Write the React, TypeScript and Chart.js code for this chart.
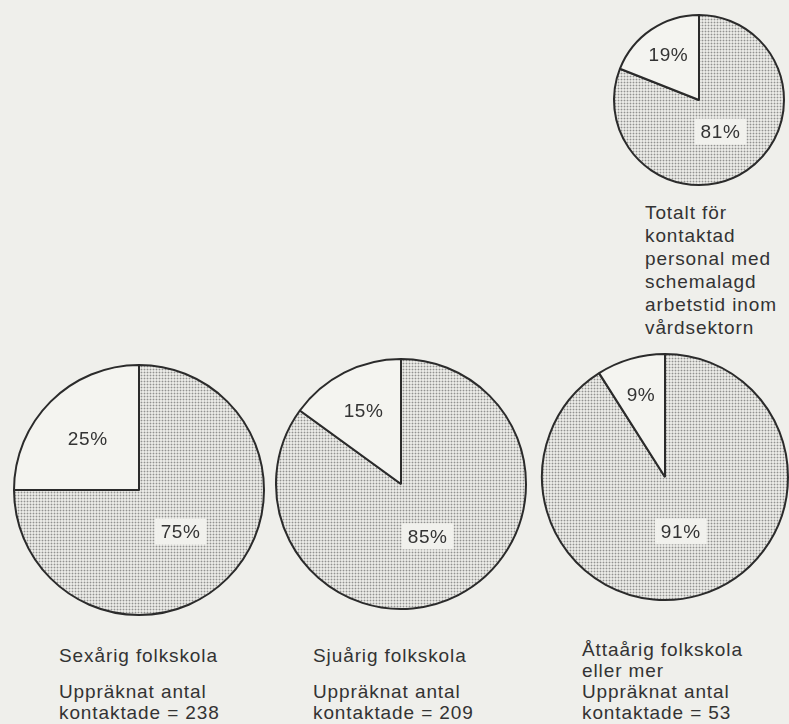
import React, { useEffect, useRef } from 'react';
import { Chart, registerables } from 'chart.js';

Chart.register(...registerables);

// ---- Data ----
const sliceCategories = ['Större andel', 'Mindre andel'];
const totalValues = [81, 19];
const sexarigValues = [75, 25];
const sjuarigValues = [85, 15];
const attaarigValues = [91, 9];

const totalCaption = ['Totalt för', 'kontaktad', 'personal med', 'schemalagd', 'arbetstid inom', 'vårdsektorn'];
const groupTitles = [['Sexårig folkskola'], ['Sjuårig folkskola'], ['Åttaårig folkskola', 'eller mer']];
const groupCounts = [238, 209, 53];

// ---- Style ----
const BG = '#efefeb';
const LIGHT = '#f4f4f0';
const INK = '#333333';
const FONT = '"Liberation Sans", Arial, sans-serif';

function makePattern(ctx: CanvasRenderingContext2D) {
  const c = document.createElement('canvas');
  c.width = 3;
  c.height = 3;
  const p = c.getContext('2d')!;
  p.fillStyle = '#e9e9e5';
  p.fillRect(0, 0, 3, 3);
  p.fillStyle = '#cdcdca';
  p.fillRect(0, 1, 3, 1);
  p.fillRect(1, 0, 1, 3);
  p.fillStyle = '#929290';
  p.fillRect(1, 1, 1, 1);
  return ctx.createPattern(c, 'repeat')!;
}

type PieProps = {
  values: number[];
  cx: number;
  cy: number;
  r: number;
  fracs: number[];
};

function Pie({ values, cx, cy, r, fracs }: PieProps) {
  const ref = useRef<HTMLCanvasElement>(null);
  const pad = 2;
  const size = 2 * r + 2 * pad;
  useEffect(() => {
    const canvas = ref.current!;
    const ctx = canvas.getContext('2d')!;
    const pattern = makePattern(ctx);
    const labelPlugin = {
      id: 'pctLabels',
      afterDatasetsDraw(chart: any) {
        const c = chart.ctx as CanvasRenderingContext2D;
        const meta = chart.getDatasetMeta(0);
        const data = chart.data.datasets[0].data as number[];
        meta.data.forEach((arc: any, i: number) => {
          const p = arc.getProps(['x', 'y', 'startAngle', 'endAngle', 'outerRadius'], true);
          const mid = (p.startAngle + p.endAngle) / 2;
          const rr = p.outerRadius * fracs[i];
          const x = p.x + Math.cos(mid) * rr;
          const y = p.y + Math.sin(mid) * rr;
          const text = data[i] + '%';
          c.save();
          c.font = `19px ${FONT}`;
          (c as any).letterSpacing = '0.6px';
          const w = c.measureText(text).width;
          if (i === 0) {
            c.fillStyle = '#f1f1ed';
            c.fillRect(x - w / 2 - 6, y - 13, w + 12, 26);
          }
          c.fillStyle = INK;
          c.textAlign = 'center';
          c.textBaseline = 'middle';
          c.fillText(text, x, y + 1);
          c.restore();
        });
      },
    };
    const chart = new Chart(canvas, {
      type: 'pie',
      data: {
        labels: sliceCategories,
        datasets: [
          {
            data: values,
            backgroundColor: [pattern as any, LIGHT],
            borderColor: '#2b2b2b',
            borderWidth: 2,
            hoverOffset: 0,
          },
        ],
      },
      options: {
        responsive: false,
        animation: false,
        events: [],
        layout: { padding: pad },
        plugins: { legend: { display: false }, tooltip: { enabled: false } },
      },
      plugins: [labelPlugin],
    });
    return () => chart.destroy();
  }, [values, fracs]);
  return (
    <canvas
      ref={ref}
      width={size}
      height={size}
      style={{ position: 'absolute', left: cx - r - pad, top: cy - r - pad, width: size, height: size }}
    />
  );
}

const textStyle: React.CSSProperties = {
  position: 'absolute',
  fontFamily: FONT,
  fontSize: 19,
  color: INK,
  whiteSpace: 'nowrap',
  letterSpacing: 0.9,
};

export default function App() {
  const groupX = [59, 313, 582];
  return (
    <div
      style={{
        position: 'absolute',
        left: 0,
        top: 0,
        width: 789,
        height: 724,
        background: BG,
        overflow: 'hidden',
      }}
    >
      <Pie values={totalValues} cx={699} cy={100} r={86} fracs={[0.45, 0.64]} />
      <Pie values={sexarigValues} cx={139} cy={490} r={126} fracs={[0.47, 0.58]} />
      <Pie values={sjuarigValues} cx={401} cy={484} r={126} fracs={[0.47, 0.66]} />
      <Pie values={attaarigValues} cx={665} cy={477} r={124} fracs={[0.46, 0.7]} />

      <div style={{ ...textStyle, left: 645, top: 201, lineHeight: '23px' }}>
        {totalCaption.map((t, i) => (
          <div key={i}>{t}</div>
        ))}
      </div>

      {groupTitles.map((lines, g) => {
        const multi = lines.length > 1;
        return (
          <div key={g} style={{ ...textStyle, left: groupX[g], top: multi ? 639 : 645, lineHeight: '21px' }}>
            {lines.map((t, i) => (
              <div key={i}>{t}</div>
            ))}
            {!multi && <div style={{ height: 15 }} />}
            <div>Uppräknat antal</div>
            <div>kontaktade = {groupCounts[g]}</div>
          </div>
        );
      })}
    </div>
  );
}
